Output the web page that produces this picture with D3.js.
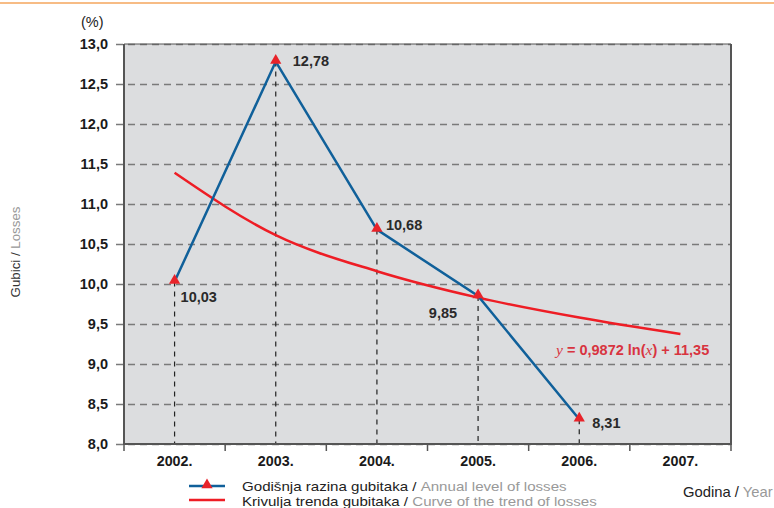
<!DOCTYPE html>
<html>
<head>
<meta charset="utf-8">
<script src="https://cdn.jsdelivr.net/npm/d3@7"></script>
<style>
  body { margin: 0; background: #fff; }
  svg { font-family: "Liberation Sans", Arial, sans-serif; display: block; }
</style>
</head>
<body>
<script>
// data
const years = ['2002.', '2003.', '2004.', '2005.', '2006.', '2007.'];
const lossYears = ['2002.', '2003.', '2004.', '2005.', '2006.'];
const losses = [10.03, 12.78, 10.68, 9.85, 8.31];
const lossLabels = ['10,03', '12,78', '10,68', '9,85', '8,31'];
const trend = [11.39, 10.61, 10.16, 9.83, 9.58, 9.375];
const yTicks = [8.0, 8.5, 9.0, 9.5, 10.0, 10.5, 11.0, 11.5, 12.0, 12.5, 13.0];

const W = 774, H = 508;
const plot = { left: 124, right: 731, top: 44, bottom: 444 };

const blue = '#10609a';
const red = '#ee1d25';

const svg = d3.select('body').append('svg')
    .attr('width', W)
    .attr('height', H);

// orange rule at the very top
svg.append('line')
    .attr('x1', 0).attr('x2', W)
    .attr('y1', 3).attr('y2', 3)
    .attr('stroke', '#f4a65c')
    .attr('stroke-width', 1.5);

const x = d3.scaleBand()
    .domain(years)
    .range([plot.left, plot.right]);

const y = d3.scaleLinear()
    .domain([8, 13])
    .range([plot.bottom, plot.top]);

const cx = d => x(d) + x.bandwidth() / 2;

// background
svg.append('rect')
    .attr('x', plot.left).attr('y', plot.top)
    .attr('width', plot.right - plot.left)
    .attr('height', plot.bottom - plot.top)
    .attr('fill', '#dcdddf');

// horizontal grid
const yGrid = d3.axisLeft(y)
    .tickValues(yTicks)
    .tickSize(-(plot.right - plot.left) - 8)
    .tickFormat('');

svg.append('g')
    .attr('class', 'grid')
    .attr('transform', `translate(${plot.left - 8},0)`)
    .call(yGrid)
    .call(g => g.select('.domain').remove())
    .call(g => g.selectAll('line')
        .attr('stroke', '#7a7a7a')
        .attr('stroke-width', 1.5)
        .attr('stroke-dasharray', '7,5'));

// top border
svg.append('line')
    .attr('x1', plot.left).attr('x2', plot.right)
    .attr('y1', plot.top).attr('y2', plot.top)
    .attr('stroke', '#555').attr('stroke-width', 1);

// drop lines from points to axis
svg.append('g')
    .selectAll('line')
    .data(losses)
    .join('line')
    .attr('x1', (d, i) => cx(lossYears[i]))
    .attr('x2', (d, i) => cx(lossYears[i]))
    .attr('y1', d => y(d))
    .attr('y2', plot.bottom)
    .attr('stroke', '#222')
    .attr('stroke-width', 1.2)
    .attr('stroke-dasharray', '5,5');

// y axis labels
const yAxis = d3.axisLeft(y)
    .tickValues(yTicks)
    .tickSize(0)
    .tickPadding(16)
    .tickFormat(d => d3.format('.1f')(d).replace('.', ','));

svg.append('g')
    .attr('transform', `translate(${plot.left},0)`)
    .call(yAxis)
    .call(g => g.select('.domain').remove())
    .call(g => g.selectAll('text')
        .attr('fill', '#1a1a1a')
        .style('font-size', '14.5px')
        .style('font-weight', 'bold'));

// x axis
const xAxis = d3.axisBottom(x)
    .tickSize(0)
    .tickPadding(12);

svg.append('g')
    .attr('transform', `translate(0,${plot.bottom})`)
    .call(xAxis)
    .call(g => g.select('.domain').remove())
    .call(g => g.selectAll('text')
        .attr('fill', '#1a1a1a')
        .style('font-size', '14.3px')
        .style('font-weight', 'bold'));

// x tick marks at band edges
svg.append('g')
    .selectAll('line')
    .data(years.concat(['end']))
    .join('line')
    .attr('x1', (d, i) => plot.left + i * x.bandwidth())
    .attr('x2', (d, i) => plot.left + i * x.bandwidth())
    .attr('y1', plot.bottom)
    .attr('y2', plot.bottom + 7)
    .attr('stroke', '#555')
    .attr('stroke-width', 1.5);

// frame: left, right, bottom
svg.append('path')
    .attr('d', `M${plot.left},${plot.top}V${plot.bottom}H${plot.right}V${plot.top}`)
    .attr('fill', 'none')
    .attr('stroke', '#555')
    .attr('stroke-width', 2);

// trend curve
const trendLine = d3.line()
    .x((d, i) => cx(years[i]))
    .y(d => y(d))
    .curve(d3.curveMonotoneX);

svg.append('path')
    .datum(trend)
    .attr('d', trendLine)
    .attr('fill', 'none')
    .attr('stroke', red)
    .attr('stroke-width', 2.5);

// annual losses
const lossLine = d3.line()
    .x((d, i) => cx(lossYears[i]))
    .y(d => y(d));

svg.append('path')
    .datum(losses)
    .attr('d', lossLine)
    .attr('fill', 'none')
    .attr('stroke', blue)
    .attr('stroke-width', 2.5);

const tri = d3.symbol().type(d3.symbolTriangle).size(55);

svg.append('g')
    .selectAll('path')
    .data(losses)
    .join('path')
    .attr('d', tri)
    .attr('transform', (d, i) => `translate(${cx(lossYears[i])},${y(d) - 1})`)
    .attr('fill', '#e8232a');

// value labels
const labelOffsets = [[6, 17, 'start'], [17, 1, 'start'], [9, -3, 'start'], [-21, 18, 'end'], [13, 5, 'start']];

svg.append('g')
    .selectAll('text')
    .data(losses)
    .join('text')
    .attr('x', (d, i) => cx(lossYears[i]) + labelOffsets[i][0])
    .attr('y', (d, i) => y(d) + labelOffsets[i][1])
    .attr('text-anchor', (d, i) => labelOffsets[i][2])
    .attr('dominant-baseline', 'middle')
    .attr('fill', '#2a2a2a')
    .style('font-size', '14.5px')
    .style('font-weight', 'bold')
    .text((d, i) => lossLabels[i]);

// equation
const eq = svg.append('text')
    .attr('x', 556)
    .attr('y', 355)
    .attr('fill', '#d8343f')
    .style('font-size', '14.5px')
    .style('font-weight', 'bold');
eq.append('tspan').text('y').style('font-family', '"Liberation Serif", serif').style('font-style', 'italic').style('font-weight', 'normal').style('font-size', '15.5px');
eq.append('tspan').text(' = 0,9872 ln(');
eq.append('tspan').text('x').style('font-family', '"Liberation Serif", serif').style('font-style', 'italic').style('font-weight', 'normal').style('font-size', '15.5px');
eq.append('tspan').text(') + 11,35');

// axis titles
svg.append('text')
    .attr('x', 81).attr('y', 27)
    .attr('fill', '#222')
    .style('font-size', '14.5px')
    .text('(%)');

const yTitle = svg.append('text')
    .attr('transform', 'translate(20,252) rotate(-90)')
    .attr('text-anchor', 'middle')
    .style('font-size', '13.3px');
yTitle.append('tspan').text('Gubici / ').attr('fill', '#333');
yTitle.append('tspan').text('Losses').attr('fill', '#999');

const xTitle = svg.append('text')
    .attr('x', 683).attr('y', 497)
    .style('font-size', '14.8px');
xTitle.append('tspan').text('Godina / ').attr('fill', '#222');
xTitle.append('tspan').text('Year').attr('fill', '#999');

// legend
const legend = svg.append('g');
legend.append('line')
    .attr('x1', 189).attr('x2', 225)
    .attr('y1', 486).attr('y2', 486)
    .attr('stroke', blue).attr('stroke-width', 2.5);
legend.append('path')
    .attr('d', tri)
    .attr('transform', 'translate(207,485)')
    .attr('fill', '#e8232a');
legend.append('line')
    .attr('x1', 189).attr('x2', 225)
    .attr('y1', 500).attr('y2', 500)
    .attr('stroke', red).attr('stroke-width', 2.5);

// legend text is wide and tightly leaded: stretch horizontally instead of enlarging
const l1 = legend.append('text')
    .attr('transform', 'translate(242,490.5) scale(1.18,1)')
    .style('font-size', '12.8px');
l1.append('tspan').text('Godišnja razina gubitaka  / ').attr('fill', '#222');
l1.append('tspan').text('Annual level of losses').attr('fill', '#999');

const l2 = legend.append('text')
    .attr('transform', 'translate(242,506) scale(1.18,1)')
    .style('font-size', '12.8px');
l2.append('tspan').text('Krivulja trenda gubitaka / ').attr('fill', '#222');
l2.append('tspan').text('Curve of the trend of losses').attr('fill', '#999');
</script>
</body>
</html>
